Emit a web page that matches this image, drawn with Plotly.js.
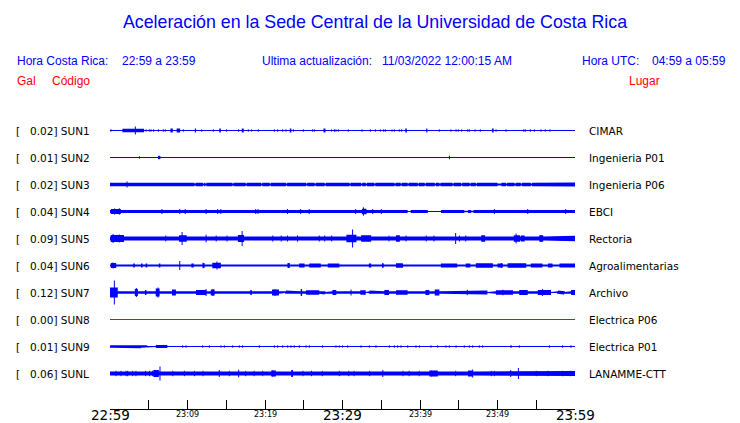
<!DOCTYPE html>
<html><head><meta charset="utf-8">
<script src="https://cdn.plot.ly/plotly-3.0.1.min.js"></script>
<style>html,body{margin:0;padding:0;background:#fff}</style>
</head><body>
<div id="chart" style="width:740px;height:423px"></div>
<script>
// ---------------- DATA ----------------
const stations = ["SUN1","SUN2","SUN3","SUN4","SUN5","SUN6","SUN7","SUN8","SUN9","SUNL"];
const peakGal = ["0.02","0.01","0.02","0.04","0.09","0.04","0.12","0.00","0.01","0.06"];
const places = ["CIMAR","Ingenieria P01","Ingenieria P06","EBCI","Rectoria","Agroalimentarias","Archivo","Electrica P06","Electrica P01","LANAMME-CTT"];
const traceColors = ["#0000ff","#0000ff","#0000ff","#0000ff","#0000ff","#0000ff","#0000ff","#ff0000","#0000ff","#0000ff"];
// background noise half-amplitude (relative units) per station
const baseAmp = [0, 0, 1.8, 1.5, 2.1, 1.1, 1.3, 0, 0.5, 2.1];
// segments [startMin, endMin, amplitude]
const sun1Seg = [[1.6,4.4,1.8],[7.8,8.1,2],[8.6,9.05,2],[10.95,11.1,2],[14.1,14.3,2],[17.0,17.25,2],[23.2,23.4,2],[27.55,27.8,2],[38.1,38.3,2],[40.8,40.95,2],[49.3,49.5,2]];
const sun2Seg = [[6.2,6.5,1.5]];
const sun3Seg = [[55.4,60,2.1],[10.9,11.05,1],[12.0,12.15,1],[12.3,12.45,1],[15.8,15.95,1],[17.5,17.65,1],[19.5,19.65,1],[20.6,20.75,1],[22.7,22.85,1],[25.3,25.45,1],[26.4,26.55,1],[27.7,27.85,1],[30.9,31.05,1],[32.4,32.55,1],[33.0,33.15,1],[34.1,34.25,1],[36.7,36.85,1],[37.5,37.65,1],[38.4,38.55,1],[39.7,39.85,1],[40.6,40.75,1],[41.9,42.05,1],[42.5,42.65,1],[44.2,44.35,1],[45.3,45.45,1],[46.4,46.55,1],[47.2,47.35,1],[50.0,50.5,1],[51.1,51.25,1],[52.2,52.35,1],[53.0,53.15,1],[54.3,54.45,1]];
const sun4Seg = [[0.1,1.4,2.5],[32.5,33.1,2.8],[38.4,38.8,0.5],[41.0,42.7,0.5],[45.7,46.2,0.7],[46.6,46.9,0.7]];
const sun5Seg = [[0.1,1.8,3.5],[2.5,6.6,2.7],[8.9,9.9,3.2],[10.9,12.6,2.7],[16.5,17.3,3.5],[17.9,19.1,2.6],[30.5,31.8,3.8],[32.4,33.7,3.3],[36.9,37.4,3.3],[47.9,48.4,3.3],[52.1,52.9,3.2],[53.0,53.5,3],[55.4,55.9,3.2],[58.4,60,2.8]];
const sun6Seg = [[0.1,0.8,2.5],[3.0,3.2,2],[4.0,4.2,2],[4.6,4.8,2],[6.3,6.5,2],[10.5,10.8,2],[12.0,12.2,2.5],[13.2,14.3,2.8],[14.5,15.8,1.7],[16.4,17.3,1.7],[19.0,20.5,1.7],[22.9,23.2,2.5],[24.4,25.1,2],[25.7,27.2,2],[28.1,29.6,2],[30.0,32.8,1.6],[33.4,33.7,2],[35.1,35.3,2],[36.9,37.8,2.3],[38.4,40.1,1.8],[42.7,44.8,2],[45.9,46.5,2],[47.2,49.4,2.3],[50.0,50.7,2],[51.3,53.7,2.3],[54.3,55.8,2],[56.5,57.1,2],[58.0,60,2],[23.4,24.2,0.5],[27.4,27.8,0.5]];
const sun7Seg = [[0,1.0,5],[3.2,3.6,3.5],[4.5,4.7,2.5],[5.9,6.4,4],[8.0,8.5,3],[9.3,9.4,2],[10.0,10.2,2],[11.1,12.4,2.5],[13.0,13.5,3],[14.3,17.5,1.7],[18.1,18.3,2.5],[18.8,20.6,2],[20.9,21.8,3],[22.7,22.9,2],[23.8,24.0,2],[24.6,24.8,3],[25.3,27.0,2.3],[27.5,27.7,2],[28.7,29.2,2.5],[29.6,32.0,1.8],[32.3,33.0,2.3],[33.5,33.6,2],[34.1,34.2,2],[34.7,34.8,2],[35.4,36.0,2.5],[36.9,38.4,2.3],[39.0,39.9,1.7],[40.7,41.2,2.5],[41.9,42.5,3],[42.9,46.8,2],[47.6,48.7,2],[49.8,52.0,2.3],[52.8,53.9,2.5],[55.2,56.9,2.5],[57.8,58.6,2],[59.5,60,2.5],[21.9,22.6,0.6],[27.8,28.3,0.6],[33.0,33.4,0.6],[48.7,49.6,0.6],[54.0,55.0,0.6],[56.9,57.7,0.6],[58.7,59.4,0.6]];
const sun8Seg = [];
const sun9Seg = [[0,1.6,1.2],[1.6,4.0,1.7],[4.0,4.8,1.2],[5.2,5.5,1.2],[5.9,7.4,1.5],[7.9,8.5,1.2]];
const sunLSeg = [[5.6,6.3,3.5],[20.8,21.4,3],[23.4,23.6,3.5],[41.2,42.3,3],[46.2,46.8,3],[58.4,60,2.5]];
// isolated spikes [minute, amplitude]
const sun1Spk = [[0.13,1.2],[3.27,4],[4.65,1.2],[5.08,1.2],[5.29,1.2],[5.63,1.2],[6.24,1.2],[6.88,1.2],[7.14,1.2],[9.46,1.2],[11.83,1.2],[13.33,1.2],[15.05,1.2],[16.6,1.2],[17.85,1.2],[18.28,1.2],[19.14,1.2],[21.2,1.2],[21.63,1.2],[22.28,1.2],[22.71,1.2],[23.66,1.2],[24.95,1.2],[26.15,1.2],[26.37,1.2],[28.6,1.2],[28.95,1.2],[29.16,1.2],[29.46,1.2],[30.75,1.2],[32.52,1.2],[33.59,1.2],[34.24,1.2],[34.88,1.2],[35.31,1.2],[35.53,1.2],[36.39,1.2],[36.69,1.2],[37.33,1.2],[37.63,1.2],[42.49,1.2],[44.0,1.2],[44.65,1.2],[44.95,1.2],[45.38,1.2],[46.15,1.2],[46.37,1.2],[47.1,1.2],[47.78,1.2],[49.81,1.2],[51.1,1.2],[53.38,1.2],[53.59,1.2],[54.24,1.2],[54.75,1.2],[55.61,1.2],[56.17,1.2],[56.77,1.2]];
const sun2Spk = [[3.8,1.2],[6.35,1.8],[43.8,1.8]];
const sun3Spk = [[2.2,3]];
const sun4Spk = [[0.6,3],[1.2,3.2],[6.7,2.5],[9.0,2.5],[9.7,2.5],[12.4,2.5],[13.9,2.5],[14.3,2.5],[18.8,2.5],[19.1,2.5],[22.9,2.5],[24.6,2.5],[25.7,2.5],[31.7,2.5],[32.7,4.2],[33.9,2.5],[35.0,2.5],[49.6,2.5],[53.9,2.5],[58.8,2.5]];
const sun5Spk = [[0.4,4.5],[1.2,4],[7.2,3],[9.3,6.5],[12.4,3.8],[13.7,3],[15.1,3],[17.05,7.5],[21.0,3],[22.1,3],[22.9,3],[24.2,3.2],[27.0,3],[27.7,3],[28.6,3],[31.3,9],[36.0,2.8],[38.2,3],[40.8,3],[41.8,3],[44.6,5.5],[45.1,3],[45.9,3],[52.4,5],[55.6,3.5]];
const sun6Spk = [[0.4,3],[9.0,4.5],[12.0,2.8],[13.8,4],[35.2,2.5],[50.5,2.5]];
const sun7Spk = [[0.56,12],[3.4,4.5],[6.2,5],[12.4,3.5],[13.3,3.5],[21.3,3.5],[24.7,3.5],[31.1,3],[46.1,2.7],[50.7,2.8],[55.8,3.5]];
const sun8Spk = [];
const sun9Spk = [[9.38,1.2],[9.81,1.2],[11.96,1.2],[12.82,1.2],[14.32,1.2],[14.75,1.2],[15.83,1.2],[16.69,1.2],[17.12,1.2],[19.27,1.2],[21.2,1.2],[21.63,1.2],[22.28,1.2],[22.92,1.2],[23.35,1.2],[23.78,1.2],[24.43,1.2],[25.29,1.2],[25.72,1.2],[27.44,1.2],[29.16,1.2],[29.59,1.2],[30.02,1.2],[30.67,1.2],[32.39,1.2],[33.46,1.2],[34.32,1.2],[36.04,1.2],[36.69,1.2],[37.12,1.2],[37.55,1.2],[38.41,1.2],[39.48,1.2],[39.91,1.2],[41.42,1.2],[42.28,1.2],[43.35,1.2],[43.78,1.2],[44.65,1.2],[45.72,1.2],[46.37,1.2],[46.8,1.2],[47.66,1.2],[48.09,1.2],[51.74,1.5],[52.82,1.2],[56.69,1.2],[58.41,1.2],[59.48,1.2]];
const sunLSpk = [[0.77,2.7],[1.42,2.7],[2.06,2.7],[2.28,2.7],[2.92,2.7],[3.35,2.7],[4.6,2.7],[5.1,2.7],[5.5,2.7],[5.9,3.5],[6.45,7],[8.1,2.7],[9.6,2.7],[10.9,2.7],[12.0,2.7],[14.1,3.5],[15.4,2.7],[16.6,3.8],[17.5,2.7],[18.6,2.7],[19.7,2.7],[21.0,3.2],[23.5,3.5],[24.9,2.7],[26.0,2.7],[27.4,2.7],[29.6,2.7],[30.8,2.7],[31.5,2.7],[33.5,2.7],[35.2,3.5],[37.8,2.7],[38.6,2.7],[39.9,2.7],[41.5,3],[44.6,2.7],[46.8,4],[49.2,2.7],[49.6,2.7],[51.7,3.5],[52.7,5.5],[55.0,2.7],[56.5,2.7],[58.4,2.7],[59.4,2.7]];
const segments = [sun1Seg,sun2Seg,sun3Seg,sun4Seg,sun5Seg,sun6Seg,sun7Seg,sun8Seg,sun9Seg,sunLSeg];
const spikes = [sun1Spk,sun2Spk,sun3Spk,sun4Spk,sun5Spk,sun6Spk,sun7Spk,sun8Spk,sun9Spk,sunLSpk];
// time axis
const minorTicks = [0,5,10,15,20,25,30,35,40,45,50,55,60];
const labelTicks = [0,10,20,30,40,50,60];
const labelText = ["22:59","23:09","23:19","23:29","23:39","23:49","23:59"];
const labelBig = [true,false,false,true,false,false,true];

// ---------------- RENDER ----------------
const ROWPX = 27;              // pixel height per station row
const A = v => v / ROWPX;      // amplitude (px-like units) -> row units
const W = 740, H = 423, L = 110, R = 575, T = 117, B = 409;
const px = x => (x - L) / (R - L);
const py = y => (B - y) / (B - T);
const traces = [];
stations.forEach((s, k) => {
  const col = traceColors[k];
  const segs = segments[k];
  const bset = new Set([0, 60]);
  segs.forEach(g => { bset.add(g[0]); bset.add(g[1]); });
  const bs = [...bset].sort((a, b) => a - b);
  const ux = [], ua = [];
  for (let i = 0; i < bs.length - 1; i++) {
    const mid = (bs[i] + bs[i + 1]) / 2;
    let amp = baseAmp[k];
    segs.forEach(g => { if (mid >= g[0] && mid < g[1]) amp = g[2]; });
    ux.push(bs[i], bs[i + 1]); ua.push(amp, amp);
  }
  const px_ = ux.concat(ux.slice().reverse());
  const py_ = ua.map(a => k - A(a)).concat(ua.slice().reverse().map(a => k + A(a)));
  traces.push({x: px_, y: py_, type: 'scatter', mode: 'lines', fill: 'toself',
    fillcolor: col, line: {width: 0, color: col}, hoverinfo: 'skip', showlegend: false});
  traces.push({x: [0, 60], y: [k, k], type: 'scatter', mode: 'lines',
    line: {width: 1, color: col}, hoverinfo: 'skip', showlegend: false});
  const sx = [], sy = [];
  spikes[k].forEach(p => { sx.push(p[0], p[0], null); sy.push(k - A(p[1]), k + A(p[1]), null); });
  if (sx.length) traces.push({x: sx, y: sy, type: 'scatter', mode: 'lines',
    line: {width: 1, color: col}, hoverinfo: 'skip', showlegend: false, connectgaps: false});
});

const ann = [];
const BLUE = '#0000ff', RED = '#ff0000';
const hdr = (text, x, y, color, size, fam, anchor) => ann.push({text, xref: 'paper', yref: 'paper',
  x: px(x), y: py(y), xanchor: anchor || 'left', yanchor: 'middle', showarrow: false,
  font: {family: fam || 'Liberation Sans, Arial, sans-serif', size: size || 12, color}});
hdr('Hora Costa Rica:', 15, 61, BLUE);
hdr('22:59 a 23:59', 120, 61, BLUE);
hdr('Ultima actualización:', 260, 61, BLUE);
hdr('11/03/2022 12:00:15 AM', 380, 61, BLUE);
hdr('Hora UTC:', 580, 61, BLUE);
hdr('04:59 a 05:59', 650, 61, BLUE);
hdr('Gal', 15, 81, RED);
hdr('Código', 50, 81, RED);
hdr('Lugar', 662, 81, RED, 12, null, 'right');
stations.forEach((s, k) => {
  const f = {family: 'DejaVu Sans, sans-serif', size: 10.5, color: '#000'};
  ann.push({text: '[', xref: 'paper', yref: 'y', x: px(14), y: k, xanchor: 'left', yanchor: 'middle', showarrow: false, font: f});
  ann.push({text: peakGal[k] + '] ' + s, xref: 'paper', yref: 'y', x: px(28), y: k, xanchor: 'left', yanchor: 'middle', showarrow: false, font: f});
  ann.push({text: places[k], xref: 'paper', yref: 'y', x: px(587), y: k, xanchor: 'left', yanchor: 'middle', showarrow: false, font: f});
});
labelTicks.forEach((t, i) => {
  ann.push({text: labelText[i], xref: 'x', yref: 'paper', x: t, y: py(labelBig[i] ? 415 : 414),
    xanchor: 'center', yanchor: 'middle', showarrow: false, borderpad: 0,
    font: {family: 'DejaVu Sans, sans-serif', size: labelBig[i] ? 13.5 : 8, color: '#000'}});
});

const layout = {
  width: W, height: H,
  margin: {l: L, r: W - R, t: T, b: H - B, pad: 0},
  paper_bgcolor: '#fff', plot_bgcolor: '#fff',
  title: {text: 'Aceleración en la Sede Central de la Universidad de Costa Rica',
    xref: 'container', yref: 'container', x: 375 / W, y: 1 - 22 / H, xanchor: 'center', yanchor: 'middle',
    font: {family: 'Liberation Sans, Arial, sans-serif', size: 17.8, color: BLUE}},
  xaxis: {range: [0, 60], tickvals: minorTicks, ticks: 'inside', ticklen: 9, tickcolor: '#000', tickwidth: 1,
    showticklabels: false, showgrid: false, zeroline: false, showline: true, linecolor: '#000', linewidth: 1, fixedrange: true},
  yaxis: {range: [-0.5 + (B - T) / ROWPX, -0.5], showticklabels: false, showgrid: false, zeroline: false,
    showline: false, ticks: '', fixedrange: true},
  annotations: ann, showlegend: false
};
Plotly.newPlot('chart', traces, layout, {displayModeBar: false, staticPlot: true});
</script>
</body></html>
